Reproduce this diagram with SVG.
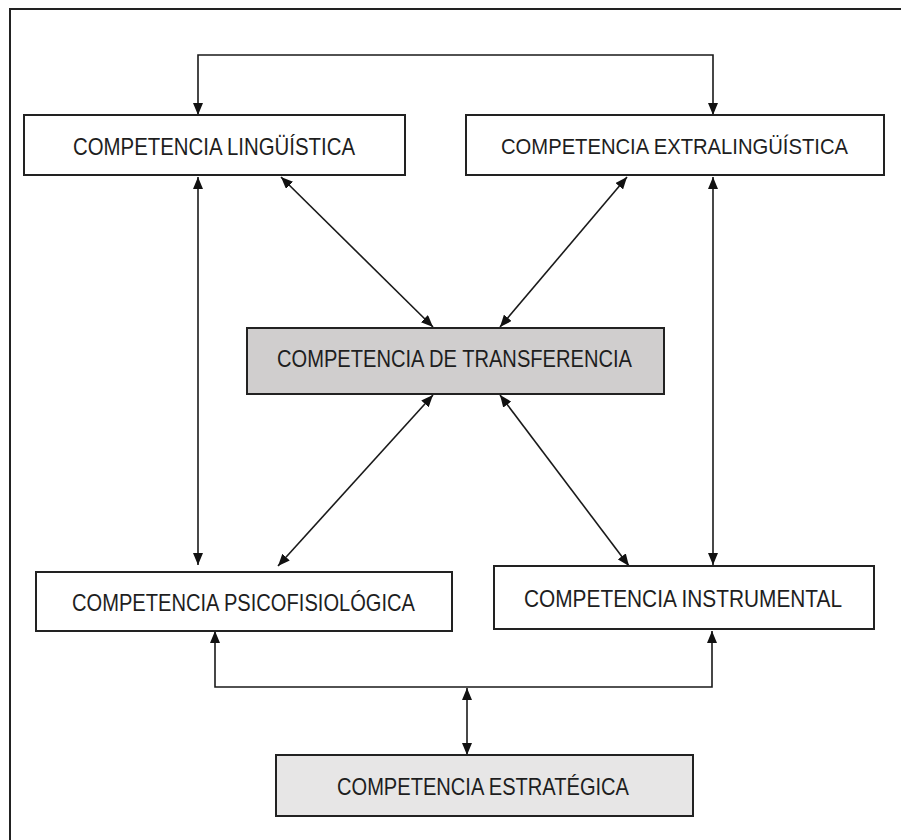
<svg xmlns="http://www.w3.org/2000/svg" width="901" height="840" viewBox="0 0 901 840">
<style>
.box{stroke:#222;stroke-width:2}
.lbl{font-family:"Liberation Sans",Arial,sans-serif;font-size:24px;fill:#1e1e1e;text-anchor:middle}
.sm{font-size:22px}
.con{fill:none;stroke:#1a1a1a;stroke-width:1.6}
</style>
<defs>
<marker id="ah" viewBox="0 0 12 10" refX="12" refY="5" markerWidth="12" markerHeight="10" markerUnits="userSpaceOnUse" orient="auto-start-reverse">
<path d="M0,0 L12,5 L0,10 z" fill="#111"/>
</marker>
</defs>
<rect width="901" height="840" fill="#fff"/>
<path d="M10,845 V9 H905" fill="none" stroke="#222" stroke-width="2"/>
<g id="connectors">
<path class="con" d="M198,115 V55 H713 V115" marker-start="url(#ah)" marker-end="url(#ah)"/>
<path class="con" d="M198,177 V565" marker-start="url(#ah)" marker-end="url(#ah)"/>
<path class="con" d="M713,177 V565" marker-start="url(#ah)" marker-end="url(#ah)"/>
<path class="con" d="M281,177 L433,327" marker-start="url(#ah)" marker-end="url(#ah)"/>
<path class="con" d="M627,177 L500,327" marker-start="url(#ah)" marker-end="url(#ah)"/>
<path class="con" d="M433,395 L278,566" marker-start="url(#ah)" marker-end="url(#ah)"/>
<path class="con" d="M500,395 L629,566" marker-start="url(#ah)" marker-end="url(#ah)"/>
<path class="con" d="M215,631 V687 H712 V631" marker-start="url(#ah)" marker-end="url(#ah)"/>
<path class="con" d="M467,688 V755" marker-start="url(#ah)" marker-end="url(#ah)"/>
</g>
<g id="linguistica">
<rect class="box" x="24" y="115" width="381" height="60" fill="#fff"/>
<text class="lbl" x="214" y="155" textLength="282" lengthAdjust="spacingAndGlyphs">COMPETENCIA LINGÜÍSTICA</text>
</g>
<g id="extralinguistica">
<rect class="box" x="466" y="115" width="418" height="60" fill="#fff"/>
<text class="lbl sm" x="674.5" y="154" textLength="347" lengthAdjust="spacingAndGlyphs">COMPETENCIA EXTRALINGÜÍSTICA</text>
</g>
<g id="transferencia">
<rect class="box" x="247" y="328" width="417" height="66" fill="#d0cece"/>
<text class="lbl" x="454.5" y="367" textLength="355" lengthAdjust="spacingAndGlyphs">COMPETENCIA DE TRANSFERENCIA</text>
</g>
<g id="psicofisiologica">
<rect class="box" x="36" y="572" width="416" height="59" fill="#fff"/>
<text class="lbl" x="243.5" y="611" textLength="343" lengthAdjust="spacingAndGlyphs">COMPETENCIA PSICOFISIOLÓGICA</text>
</g>
<g id="instrumental">
<rect class="box" x="494" y="566" width="380" height="63" fill="#fff"/>
<text class="lbl" x="683" y="607" textLength="318" lengthAdjust="spacingAndGlyphs">COMPETENCIA INSTRUMENTAL</text>
</g>
<g id="estrategica">
<rect class="box" x="276" y="755" width="417" height="61" fill="#e7e6e6"/>
<text class="lbl" x="483" y="795" textLength="292" lengthAdjust="spacingAndGlyphs">COMPETENCIA ESTRATÉGICA</text>
</g>
</svg>
